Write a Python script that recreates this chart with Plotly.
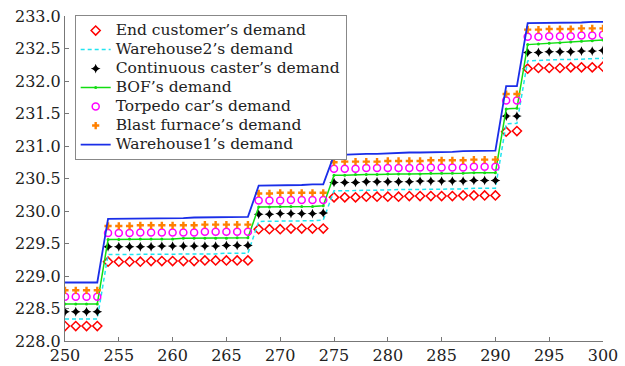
import plotly.graph_objects as go

# Time steps
periods = list(range(250, 301))

# Demand at each stage of the supply chain
end_customer = [228.23, 228.23, 228.23, 228.23,
                229.22, 229.22, 229.22, 229.22, 229.23, 229.23, 229.23, 229.23, 229.23, 229.24, 229.24, 229.24, 229.24, 229.24,
                229.72, 229.72, 229.72, 229.73, 229.73, 229.73, 229.73,
                230.21, 230.21, 230.21, 230.22, 230.22, 230.22, 230.22, 230.23, 230.23, 230.23, 230.23, 230.23, 230.24, 230.24, 230.24, 230.24,
                231.22, 231.23,
                232.19, 232.20, 232.20, 232.20, 232.21, 232.21, 232.21, 232.22]

warehouse2 = [228.34, 228.34, 228.34, 228.34,
              229.33, 229.33, 229.33, 229.33, 229.33, 229.34, 229.34, 229.34, 229.34, 229.34, 229.34, 229.35, 229.35, 229.35,
              229.84, 229.84, 229.85, 229.85, 229.85, 229.85, 229.86,
              230.31, 230.31, 230.32, 230.32, 230.32, 230.33, 230.33, 230.33, 230.33, 230.34, 230.34, 230.34, 230.34, 230.35, 230.35, 230.35,
              231.34, 231.35,
              232.31, 232.32, 232.32, 232.33, 232.33, 232.34, 232.34, 232.35]

continuous_caster = [228.45, 228.45, 228.45, 228.45,
                     229.45, 229.45, 229.45, 229.45, 229.45, 229.46, 229.46, 229.46, 229.46, 229.46, 229.46, 229.47, 229.47, 229.47,
                     229.95, 229.95, 229.96, 229.96, 229.96, 229.96, 229.97,
                     230.44, 230.44, 230.44, 230.45, 230.45, 230.45, 230.45, 230.45, 230.46, 230.46, 230.46, 230.46, 230.46, 230.47, 230.47, 230.47,
                     231.46, 231.46,
                     232.44, 232.44, 232.45, 232.45, 232.45, 232.46, 232.46, 232.47]

bof = [228.57, 228.57, 228.57, 228.57,
       229.56, 229.56, 229.57, 229.57, 229.57, 229.57, 229.57, 229.58, 229.58, 229.58, 229.58, 229.58, 229.59, 229.59,
       230.06, 230.06, 230.07, 230.07, 230.07, 230.07, 230.08,
       230.55, 230.55, 230.56, 230.56, 230.56, 230.57, 230.57, 230.57, 230.57, 230.58, 230.58, 230.58, 230.58, 230.59, 230.59, 230.59,
       231.57, 231.58,
       232.56, 232.57, 232.58, 232.59, 232.60, 232.61, 232.62, 232.63]

torpedo_car = [228.68, 228.68, 228.68, 228.68,
               229.66, 229.66, 229.66, 229.67, 229.67, 229.67, 229.67, 229.67, 229.67, 229.68, 229.68, 229.68, 229.68, 229.68,
               230.16, 230.16, 230.16, 230.17, 230.17, 230.17, 230.17,
               230.65, 230.65, 230.65, 230.66, 230.66, 230.66, 230.66, 230.66, 230.67, 230.67, 230.67, 230.67, 230.67, 230.68, 230.68, 230.68,
               231.70, 231.70,
               232.68, 232.68, 232.69, 232.69, 232.69, 232.70, 232.70, 232.71]

blast_furnace = [228.78, 228.78, 228.78, 228.78,
                 229.77, 229.77, 229.77, 229.78, 229.78, 229.78, 229.78, 229.78, 229.78, 229.79, 229.79, 229.79, 229.79, 229.79,
                 230.27, 230.27, 230.28, 230.28, 230.28, 230.28, 230.28,
                 230.75, 230.76, 230.76, 230.76, 230.76, 230.77, 230.77, 230.77, 230.77, 230.78, 230.78, 230.78, 230.78, 230.79, 230.79, 230.79,
                 231.80, 231.80,
                 232.79, 232.79, 232.80, 232.80, 232.80, 232.81, 232.81, 232.81]

warehouse1 = [228.90, 228.90, 228.90, 228.90,
              229.88, 229.88, 229.88, 229.89, 229.89, 229.89, 229.89, 229.89, 229.90, 229.90, 229.90, 229.90, 229.90, 229.91,
              230.39, 230.39, 230.40, 230.40, 230.40, 230.41, 230.41,
              230.86, 230.87, 230.87, 230.88, 230.88, 230.89, 230.89, 230.90, 230.90, 230.90, 230.91, 230.91, 230.92, 230.92, 230.92, 230.93,
              231.92, 231.92,
              232.89, 232.89, 232.90, 232.90, 232.90, 232.90, 232.91, 232.91]

x_ticks = [250, 255, 260, 265, 270, 275, 280, 285, 290, 295, 300]
y_ticks = [228.0, 228.5, 229.0, 229.5, 230.0, 230.5, 231.0, 231.5, 232.0, 232.5, 233.0]

FONT = "DejaVu Serif"


def legend_label(text):
    # Larger glyphs inside a compact legend row
    return f'<span style="font-size:15.5px">{text}</span>'


fig = go.Figure()

fig.add_trace(go.Scatter(
    x=periods, y=end_customer, mode="markers", name=legend_label("End customer\u2019s demand"),
    marker=dict(symbol="diamond-open", size=7, color="#ff0000", line=dict(width=1.5))))
fig.add_trace(go.Scatter(
    x=periods, y=warehouse2, mode="lines", name=legend_label("Warehouse2\u2019s demand"),
    line=dict(color="#22e4f0", width=1.5, dash="4px,3px")))
fig.add_trace(go.Scatter(
    x=periods, y=continuous_caster, mode="markers", name=legend_label("Continuous caster\u2019s demand"),
    marker=dict(symbol="star-diamond", size=7, color="#000000")))
fig.add_trace(go.Scatter(
    x=periods, y=bof, mode="lines+markers", name=legend_label("BOF\u2019s demand"),
    line=dict(color="#11dd11", width=1.5),
    marker=dict(symbol="circle", size=3, color="#11dd11")))
fig.add_trace(go.Scatter(
    x=periods, y=torpedo_car, mode="markers", name=legend_label("Torpedo car\u2019s demand"),
    marker=dict(symbol="circle-open", size=7, color="#ff00ff", line=dict(width=1.5))))
fig.add_trace(go.Scatter(
    x=periods, y=blast_furnace, mode="markers", name=legend_label("Blast furnace\u2019s demand"),
    marker=dict(symbol="cross", size=6, color="#ff8000")))
fig.add_trace(go.Scatter(
    x=periods, y=warehouse1, mode="lines", name=legend_label("Warehouse1\u2019s demand"),
    line=dict(color="#1a2ee8", width=1.8)))

axis_common = dict(
    showgrid=False, zeroline=False, showline=True, linecolor="#777777", linewidth=1,
    ticks="inside", ticklen=4, tickcolor="#777777", mirror=False, automargin=False,
    tickfont=dict(family=FONT, size=16, color="#222222"))

fig.update_xaxes(range=[250, 300], tickvals=x_ticks,
                 ticktext=[str(v) for v in x_ticks], **axis_common)
fig.update_yaxes(range=[228, 233], tickvals=y_ticks,
                 ticktext=[f"{v:.1f}" for v in y_ticks], **axis_common)

fig.update_layout(
    width=625, height=366,
    margin=dict(l=65, r=22, t=16, b=25),
    plot_bgcolor="white", paper_bgcolor="white",
    font=dict(family=FONT, size=14, color="#222222"),
    legend=dict(x=0.018, y=1.003, xanchor="left", yanchor="top",
                bgcolor="white", bordercolor="#888888", borderwidth=1,
                font=dict(family=FONT, size=11, color="#222222"),
                tracegroupgap=0, itemwidth=30),
)

fig.write_html("out.html")
